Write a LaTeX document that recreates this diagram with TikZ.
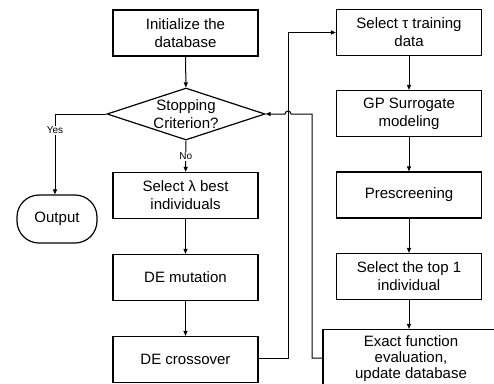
\documentclass[tikz,border=0pt]{standalone}
\usepackage{fontspec}
\setmainfont{Liberation Sans}
\usetikzlibrary{shapes.geometric,arrows.meta}
\tikzstyle{flow}=[-{Triangle[length=5pt,width=4pt]},line width=1pt]
\tikzstyle{stepbox}=[rectangle,draw=black!100,line width=1.2pt,minimum width=145pt,minimum height=46pt,align=center,font=\fontsize{15}{18}\selectfont]
\tikzstyle{decision}=[diamond,draw=black!100,line width=1.2pt,minimum width=158pt,minimum height=52pt,inner sep=0pt]
\tikzstyle{terminal}=[rectangle,rounded corners=22pt,draw=black!100,line width=1.2pt,minimum width=80pt,minimum height=48pt,font=\fontsize{15}{18}\selectfont]
\tikzstyle{branch}=[fill=white,inner sep=1pt,font=\fontsize{10}{11}\selectfont]

\begin{document}
\begin{tikzpicture}[x=1pt,y=-1pt]
                    \useasboundingbox (0,0) rectangle (494,383);
                    \clip (0,0) rectangle (494,383);
                    % left column
                    \node (init) at (185.5,33) [stepbox] {Initialize the\\database};
                    \node (stop) at (186,114) [decision] {};
                    \node at (stop) [align=center,font=\fontsize{15}{18}\selectfont] {Stopping\\Criterion?};
                    \node (sel) at (185.5,195.5) [stepbox] {Select λ best\\individuals};
                    \node (mut) at (185.5,277.5) [stepbox] {DE mutation};
                    \node (cross) at (185.5,359.5) [stepbox] {DE crossover};
                    \node (out) at (57,219) [terminal] {Output};
                    % right column
                    \node (tau) at (409,32.5) [stepbox] {Select τ training\\data};
                    \node (gp) at (409,113.5) [stepbox] {GP Surrogate\\modeling};
                    \node (pre) at (409,195) [stepbox] {Prescreening};
                    \node (top) at (409,276.5) [stepbox] {Select the top 1\\individual};
                    \node (exact) at (411,358.5) [stepbox,minimum width=176pt,minimum height=58pt,inner sep=0pt,font=\fontsize{15}{16}\selectfont] {Exact function\\evaluation,\\update database};
                    \coordinate (yes) at (55,114);
                    \coordinate (up) at (288,358);
                    \coordinate (back) at (312,358);

                    \draw [flow] (init) -- (stop);
                    \draw [flow] (stop) -- node [branch,pos=0.5] {No} (sel);
                    \draw [flow] (stop.west) -- (yes) -- node [branch,pos=0.2] {Yes} (out.north -| yes);
                    \draw [flow] (sel) -- (mut);
                    \draw [flow] (mut) -- (cross);
                    \draw [flow] (cross.east |- up) -- (up) |- (tau.west);
                    \draw [flow] (tau) -- (gp);
                    \draw [flow] (gp) -- (pre);
                    \draw [flow] (pre) -- (top);
                    \draw [flow] (top) -- (top.south |- exact.north);
                    \draw [flow] (exact.west |- back) -- (back) -- (312,114) -- (291,114) arc (0:-180:3) -- (stop.east);
                \end{tikzpicture}
\end{document}
